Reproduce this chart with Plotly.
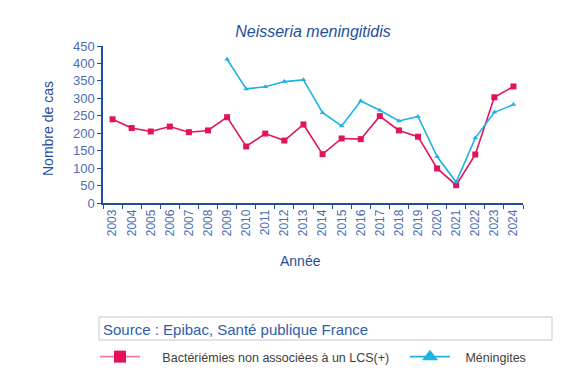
import plotly.graph_objects as go

years = [str(y) for y in range(2003, 2025)]
bacteriemies = [240, 215, 205, 219, 203, 208, 246, 162, 199, 179, 225, 140, 185, 183, 249, 208, 190, 99, 51, 139, 303, 334]
meningites = [None, None, None, None, None, None, 412, 327, 333, 348, 353, 259, 221, 292, 266, 235, 248, 133, 60, 186, 260, 282]
y_ticks = list(range(0, 451, 50))

RED = "#E3135B"
BLUE = "#1CB2E6"
AXIS = "#1F4E9B"
TICK = "#4A6FB5"
NBSP = "\u00a0"

W, H = 584, 380
L, R, T, B = 103, 61, 46, 177
PW, PH = W - L - R, H - T - B


def px(xp):
    return (xp - L) / PW


def py(yp):
    return (H - B - yp) / PH


fig = go.Figure()
fig.add_trace(go.Scatter(x=years, y=bacteriemies, mode="lines+markers",
                         line=dict(color=RED, width=1.6),
                         marker=dict(symbol="square", size=6, color=RED),
                         showlegend=False, hoverinfo="x+y"))
fig.add_trace(go.Scatter(x=years, y=meningites, mode="lines+markers",
                         line=dict(color=BLUE, width=1.6),
                         marker=dict(symbol="triangle-up", size=5, color=BLUE),
                         connectgaps=False, showlegend=False, hoverinfo="x+y"))
# legend entries (no data)
fig.add_trace(go.Scatter(x=[years[0]], y=[None], mode="lines+markers",
                         name=NBSP * 5 + "Bactériémies non associées à un LCS(+)",
                         line=dict(color="#F07AA3", width=1.6),
                         marker=dict(symbol="square", size=12, color=RED),
                         legend="legend", hoverinfo="skip"))
fig.add_trace(go.Scatter(x=[years[0]], y=[None], mode="lines+markers",
                         name=NBSP * 3 + "Méningites",
                         line=dict(color=BLUE, width=1.6),
                         marker=dict(symbol="triangle-up", size=14, color=BLUE),
                         legend="legend2", hoverinfo="skip"))

fig.update_layout(
    width=W, height=H,
    margin=dict(l=L, r=R, t=T, b=B, autoexpand=False),
    paper_bgcolor="white", plot_bgcolor="white",
    font=dict(family="Liberation Sans, Arial, sans-serif", color=TICK),
    title=dict(text="<i>Neisseria meningitidis</i>", x=0.536, xanchor="center",
               y=1 - 31 / H, yanchor="middle",
               font=dict(size=16, color="#1F4E9B")),
    xaxis=dict(type="category", categoryorder="array", categoryarray=years,
               range=[-0.5, len(years) - 0.5],
               showline=True, linecolor=AXIS, linewidth=1.5,
               ticks="outside", ticklen=4, tickcolor=AXIS, tickwidth=1.2,
               tickson="boundaries", tickangle=-90, automargin=False,
               tickfont=dict(size=12, color=TICK),
               showgrid=False, zeroline=False),
    yaxis=dict(range=[0, 450], tickvals=y_ticks, automargin=False,
               showline=True, linecolor=AXIS, linewidth=1.5,
               ticks="outside", ticklen=4, tickcolor=AXIS, tickwidth=1.2,
               tickfont=dict(size=13, color=TICK),
               showgrid=False, zeroline=False),
    legend=dict(orientation="h", x=px(95), xanchor="left", y=py(342), yanchor="top",
                itemwidth=40, font=dict(size=12.5, color="#404040"),
                bgcolor="rgba(0,0,0,0)"),
    legend2=dict(orientation="h", x=px(405), xanchor="left", y=py(342), yanchor="top",
                 itemwidth=40, font=dict(size=12.5, color="#404040"),
                 bgcolor="rgba(0,0,0,0)"),
    shapes=[dict(type="rect", xref="paper", yref="paper",
                 x0=px(99), x1=px(552), y0=py(340), y1=py(317),
                 line=dict(color="#C8C8C8", width=1))],
    annotations=[
        dict(text="Source : Epibac, Santé publique France",
             xref="paper", yref="paper", x=px(101), y=py(329),
             xanchor="left", yanchor="middle", showarrow=False,
             font=dict(size=15, color="#2F5EA8")),
        dict(text="Nombre de cas", xref="paper", yref="paper",
             x=px(48), y=py(129), textangle=-90, showarrow=False,
             xanchor="center", yanchor="middle",
             font=dict(size=14, color="#1F4E9B")),
        dict(text="Année", xref="paper", yref="paper",
             x=px(300), y=py(261), showarrow=False,
             xanchor="center", yanchor="middle",
             font=dict(size=14, color="#1F4E9B")),
    ],
)

fig.write_html("out.html", config={"displayModeBar": False},
               post_script="document.body.style.margin='0';")
